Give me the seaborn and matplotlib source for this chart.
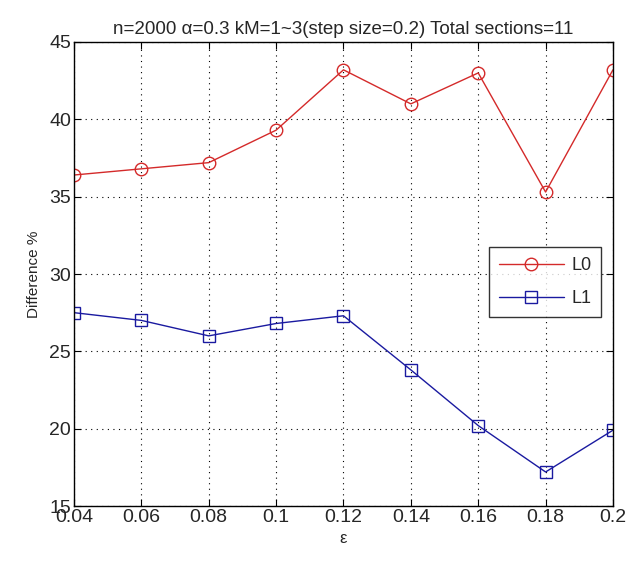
import matplotlib
matplotlib.use("Agg")
import matplotlib.pyplot as plt
import seaborn as sns
import pandas as pd

eps = [0.04, 0.06, 0.08, 0.1, 0.12, 0.14, 0.16, 0.18, 0.2]
eps_labels = ["0.04", "0.06", "0.08", "0.1", "0.12", "0.14", "0.16", "0.18", "0.2"]
L0 = [36.4, 36.8, 37.2, 39.3, 43.2, 41.0, 43.0, 35.3, 43.2]
L1 = [27.5, 27.0, 26.0, 26.8, 27.3, 23.8, 20.2, 17.2, 19.9]
series_names = ["L0", "L1"]
yticks = [15, 20, 25, 30, 35, 40, 45]

df = pd.DataFrame({
    "eps": eps * 2,
    "val": L0 + L1,
    "series": [series_names[0]] * len(eps) + [series_names[1]] * len(eps),
})

sns.set_theme(style="white")
plt.rcParams["font.family"] = ["Liberation Sans", "DejaVu Sans"]

fig = plt.figure(figsize=(6.27, 5.66), dpi=100)
ax = fig.add_axes([0.118, 0.106, 0.8596, 0.8198])

sns.lineplot(data=df, x="eps", y="val", hue="series", style="series",
             palette={"L0": "#d42a2a", "L1": "#1a1aa0"},
             markers={"L0": "o", "L1": "s"}, dashes=False,
             markersize=9, markerfacecolor="none", markeredgewidth=1.0,
             linewidth=1.0, ax=ax)
for line in ax.lines:
    line.set_markerfacecolor("none")
    line.set_markeredgecolor(line.get_color())

ax.set_xlim(0.04, 0.2)
ax.set_ylim(15, 45)
ax.set_xticks(eps)
ax.set_xticklabels(eps_labels)
ax.set_yticks(yticks)
ax.grid(True, color="black", linestyle=(0, (1, 4)), linewidth=0.8)
for s in ax.spines.values():
    s.set_color("black")
    s.set_linewidth(1.0)
ax.tick_params(direction="in", length=5, width=0.8, color="black",
               labelsize=14, top=True, right=True, bottom=True, left=True, pad=2)
ax.set_xlabel("ε", fontsize=12, labelpad=4)
ax.set_ylabel("Difference %", fontsize=11, labelpad=6)
ax.set_title("n=2000 α=0.3 kM=1~3(step size=0.2) Total sections=11", fontsize=13.5, pad=6)

h, l = ax.get_legend_handles_labels()
for hh in h:
    hh.set_markerfacecolor("none")
leg = ax.legend(h, l, loc="upper right", bbox_to_anchor=(0.978, 0.558),
                fontsize=13, frameon=True, fancybox=False, edgecolor="black",
                handlelength=3.6, handletextpad=0.4, borderpad=0.55,
                labelspacing=0.9, borderaxespad=0.0)
leg.get_frame().set_linewidth(1.0)

fig.savefig("out.png", dpi=100, facecolor="white")
